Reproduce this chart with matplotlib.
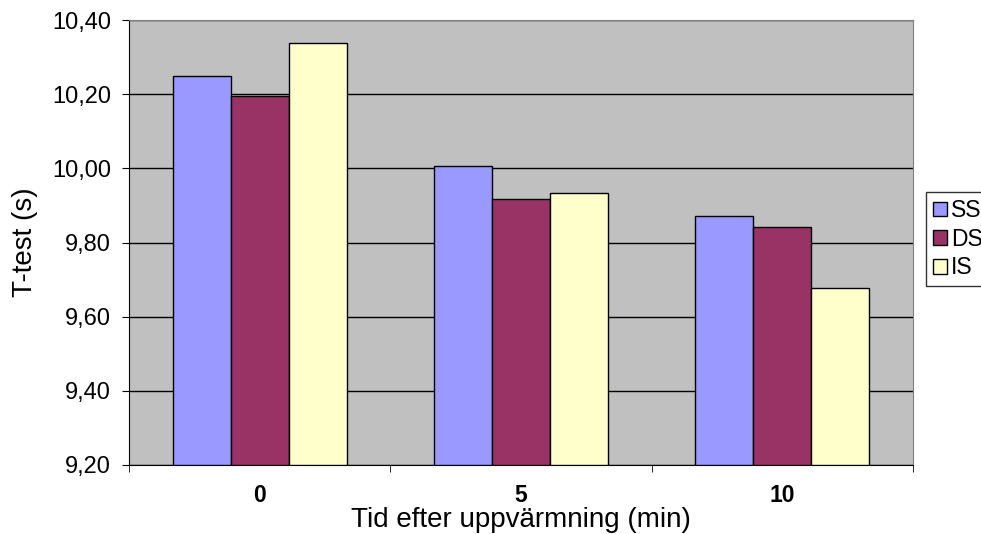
import numpy as np
import matplotlib.pyplot as plt

# data
categories = ["0", "5", "10"]
series_names = ["SS", "DS", "IS"]
ss_values = [10.25, 10.005, 9.872]
ds_values = [10.196, 9.918, 9.841]
is_values = [10.339, 9.933, 9.678]
colors = ["#9999FF", "#993366", "#FFFFCC"]

plt.rcParams['font.family'] = ['Liberation Sans', 'DejaVu Sans']

fig = plt.figure(figsize=(9.81, 5.34), dpi=100)
ax = fig.add_axes([129 / 981, 1 - 465 / 534, 784 / 981, 445 / 534])
ax.set_facecolor("#C0C0C0")

x = np.arange(len(categories))
width = 0.222
bottom = 9.20
for k, (name, vals, col) in enumerate(zip(series_names, [ss_values, ds_values, is_values], colors)):
    h = np.array(vals) - bottom
    ax.bar(x + (k - 1) * width, h, width, bottom=bottom, color=col,
           edgecolor="black", linewidth=1.0, label=name, zorder=3)

ax.set_xlim(-0.5, 2.5)
ax.set_ylim(9.20, 10.40)
yt = np.arange(9.20, 10.41, 0.20)
ax.set_yticks(yt)
ax.set_yticklabels([("%.2f" % v).replace(".", ",") for v in yt], fontsize=17)
ax.yaxis.grid(True, color="black", linewidth=1.0, zorder=0)
ax.set_axisbelow(True)

ax.set_xticks(x)
ax.set_xticklabels(categories, fontsize=16.5, fontweight="bold")
ax.set_xticks([-0.5, 0.5, 1.5, 2.5], minor=True)
ax.tick_params(axis="x", which="major", length=0, pad=14)
ax.tick_params(axis="x", which="minor", length=5, color="black")
ax.tick_params(axis="y", length=5, color="black", pad=8)

for s in ["left", "bottom"]:
    ax.spines[s].set_color("black")
for s in ["top", "right"]:
    ax.spines[s].set_color("#808080")

ax.set_ylabel("T-test (s)", fontsize=20, labelpad=10)
ax.set_xlabel("Tid efter uppvärmning (min)", fontsize=20, labelpad=0)

leg = fig.legend(loc="upper left", bbox_to_anchor=(926 / 981, 1 - 192 / 534),
                 fontsize=16.5, frameon=True, fancybox=False, edgecolor="black",
                 handlelength=0.6, handleheight=0.6, handletextpad=0.2,
                 borderpad=0.3, labelspacing=0.25, borderaxespad=0)
leg.get_frame().set_linewidth(1.0)

fig.savefig("out.png", dpi=100)
